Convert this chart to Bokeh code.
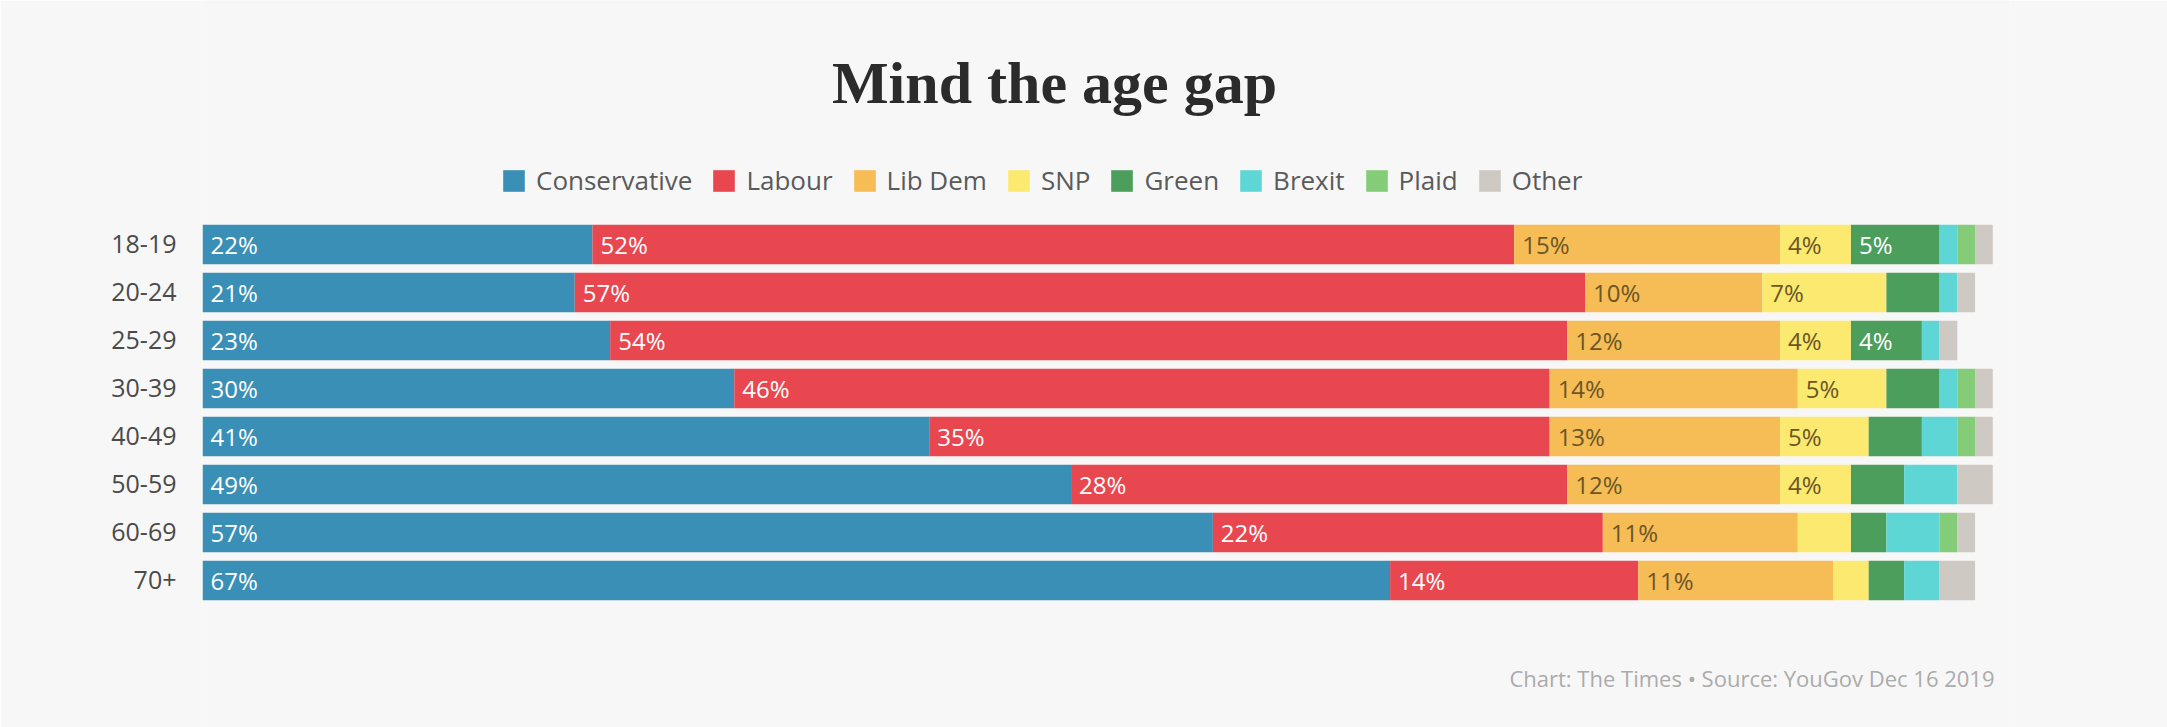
from bokeh.plotting import figure
from bokeh.models import ColumnDataSource, Range1d, Legend, LegendItem, Label, FixedTicker
from bokeh.embed import file_html
from bokeh.resources import INLINE
from bokeh.core.properties import value

# ---- data ----
ages = ["18-19", "20-24", "25-29", "30-39", "40-49", "50-59", "60-69", "70+"]
parties = ["Conservative", "Labour", "Lib Dem", "SNP", "Green", "Brexit", "Plaid", "Other"]
keys = ["con", "lab", "ld", "snp", "grn", "brx", "pc", "oth"]
conservative = [22, 21, 23, 30, 41, 49, 57, 67]
labour = [52, 57, 54, 46, 35, 28, 22, 14]
lib_dem = [15, 10, 12, 14, 13, 12, 11, 11]
snp = [4, 7, 4, 5, 5, 4, 3, 2]
green = [5, 3, 4, 3, 3, 3, 2, 2]
brexit = [1, 1, 1, 1, 2, 3, 3, 2]
plaid = [1, 0, 0, 1, 1, 0, 1, 0]
other = [1, 1, 1, 1, 1, 2, 1, 2]
series = [conservative, labour, lib_dem, snp, green, brexit, plaid, other]

colors = ["#3a8fb7", "#e8474f", "#f6bc55", "#fbe970", "#4b9e5b", "#5fd6d6", "#84cc77", "#cfc9c3"]
label_colors = ["#ffffff", "#ffffff", "#6b5626", "#6b5626", "#ffffff", "#ffffff", "#ffffff", "#ffffff"]

title_text = "Mind the age gap"
footer_text = "Chart: The Times \u2022 Source: YouGov Dec 16 2019"

BG = "#f7f7f7"
FONT = "Open Sans"

# row positions: first age group at the top
n = len(ages)
ypos = [n - 1 - i for i in range(n)]

data = {"y": ypos}
for k, s in zip(keys, series):
    data[k] = s
source = ColumnDataSource(data)

W, H = 2167, 727
p = figure(
    width=W, height=H,
    x_range=Range1d(0, 102),
    y_range=Range1d(-3.0625, 12.0833),
    x_axis_type=None,
    output_backend="svg", toolbar_location=None,
    min_border_left=202, min_border_right=157,
    min_border_top=0, min_border_bottom=0,
    background_fill_color=BG, border_fill_color=BG,
    outline_line_color=None,
)

renderers = p.hbar_stack(keys, y="y", height=0.82, color=colors, line_color=None, source=source)

# value labels
cum = [0] * n
for s, c in zip(series, label_colors):
    lefts = list(cum)
    texts = [f"{v}%" if v >= 4 else "" for v in s]
    src = ColumnDataSource({"x": lefts, "y": ypos, "t": texts})
    p.text(x="x", y="y", text="t", source=src, x_offset=8,
           text_align="left", text_baseline="middle",
           text_font=value(FONT), text_font_size="24px", text_color=c)
    cum = [a + b for a, b in zip(cum, s)]

p.ygrid.grid_line_color = None
p.xgrid.grid_line_color = None
ax = p.yaxis[0]
ax.ticker = FixedTicker(ticks=ypos)
ax.major_label_overrides = {y: a for y, a in zip(ypos, ages)}
ax.axis_line_color = None
ax.major_tick_line_color = None
ax.minor_tick_line_color = None
ax.major_label_standoff = 20
ax.major_label_text_font = FONT
ax.major_label_text_font_size = "25px"
ax.major_label_text_color = "#4a4a4a"

legend = Legend(
    items=[LegendItem(label=nm, renderers=[r]) for nm, r in zip(parties, renderers)],
    orientation="horizontal", location=(298, 529),
    glyph_width=27, glyph_height=27, label_height=27, label_standoff=9, spacing=18,
    padding=0, margin=0, border_line_color=None, background_fill_alpha=0,
    label_text_font=FONT, label_text_font_size="26px", label_text_color="#5a5a5a",
)
p.add_layout(legend, "center")

p.add_layout(Label(x=852, y=H - 82, x_units="screen", y_units="screen", text=title_text,
                   text_align="center", text_baseline="alphabetic",
                   text_font="Liberation Serif", text_font_style="bold",
                   text_font_size="60px", text_color="#2b2b2b"))
p.add_layout(Label(x=1792, y=H - 677, x_units="screen", y_units="screen", text=footer_text,
                   text_align="right", text_baseline="alphabetic",
                   text_font=FONT, text_font_size="22px", text_color="#ababab"))

open("out.html", "w").write(file_html(p, INLINE))
